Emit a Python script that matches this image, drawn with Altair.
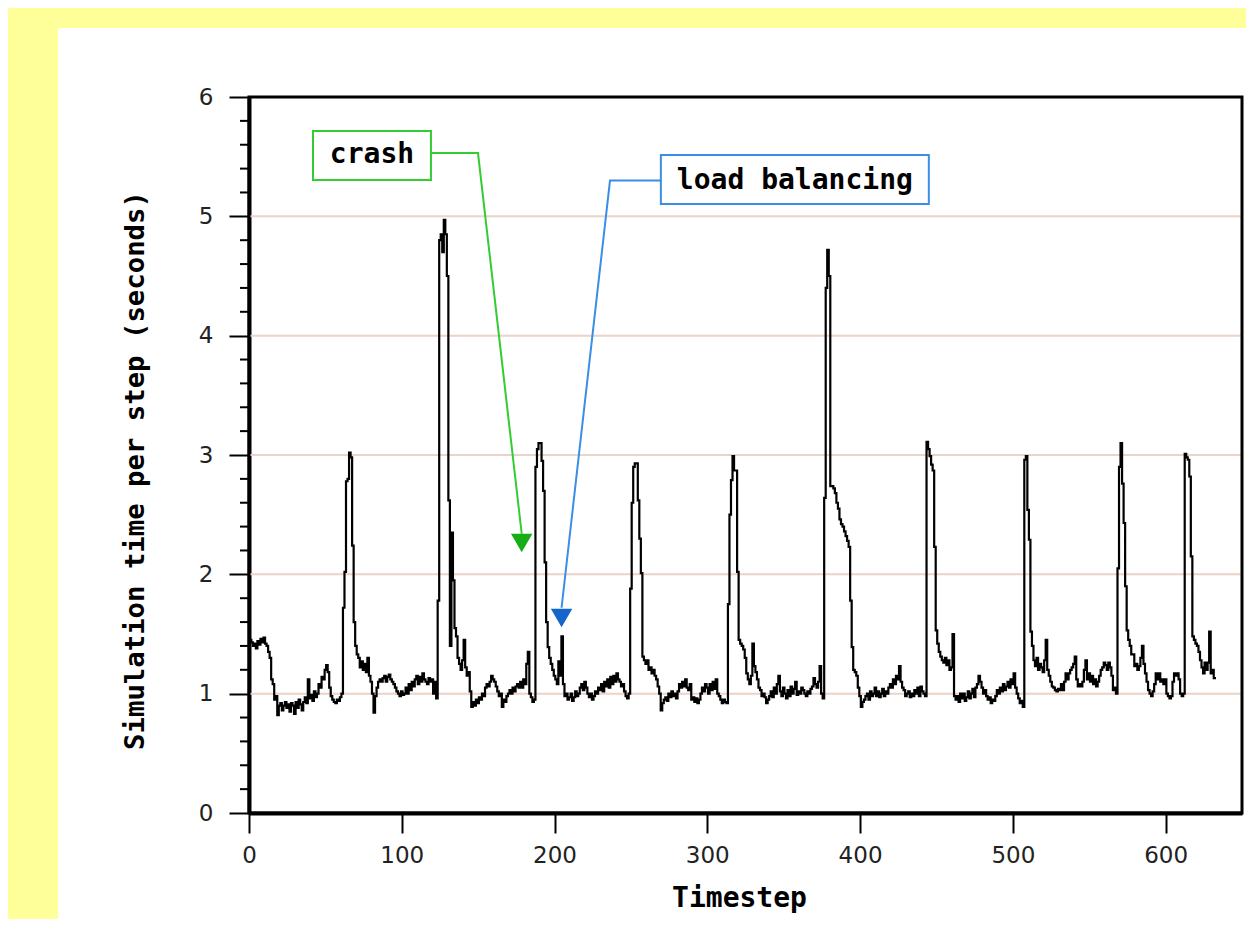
import altair as alt
import pandas as pd

# ---- data -------------------------------------------------------------
sim_time = [
    1.50, 1.45, 1.43, 1.40, 1.42, 1.38, 1.44, 1.41, 1.46, 1.43,
    1.47, 1.42, 1.40, 1.35, 1.30, 1.12, 1.08, 0.95, 0.98, 0.82,
    0.90, 0.92, 0.86, 0.90, 0.93, 0.88, 0.91, 0.85, 0.92, 0.90,
    0.83, 0.93, 0.88, 0.95, 0.91, 0.86, 0.93, 0.97, 0.92, 1.12,
    0.96, 0.99, 0.94, 1.02, 0.97, 1.00, 1.08, 1.05, 1.14, 1.12,
    1.20, 1.24, 1.18, 1.05, 0.98, 0.95, 0.93, 0.92, 0.95, 0.94,
    0.97, 1.00, 1.72, 2.02, 2.78, 2.80, 3.02, 2.98, 2.24, 1.60,
    1.40, 1.33, 1.30, 1.22, 1.27, 1.20, 1.25, 1.18, 1.30, 1.15,
    1.10, 1.00, 0.84, 0.98, 1.05, 1.10, 1.12, 1.10, 1.13, 1.15,
    1.10, 1.14, 1.16, 1.12, 1.10, 1.08, 1.05, 1.02, 1.00, 0.98,
    1.02, 0.99, 1.00, 1.05, 1.00, 1.08, 1.03, 1.10, 1.06, 1.12,
    1.15, 1.08, 1.14, 1.10, 1.17, 1.12, 1.10, 1.08, 1.13, 1.10,
    1.12, 1.00, 1.10, 0.96, 1.78, 4.80, 4.85, 4.70, 4.97, 4.85,
    4.50, 2.62, 1.40, 2.35, 1.95, 1.55, 1.48, 1.30, 1.25, 1.20,
    1.28, 1.45, 1.22, 1.15, 1.18, 1.02, 0.89, 0.93, 0.90, 0.95,
    0.92, 0.97, 0.95, 1.00, 0.98, 1.05, 1.08, 1.06, 1.10, 1.15,
    1.12, 1.10, 1.06, 1.02, 0.98, 1.00, 0.89, 0.95, 0.93, 0.98,
    1.00, 1.03, 1.00, 1.05, 1.02, 1.06, 1.08, 1.05, 1.10, 1.05,
    1.12, 1.08, 1.25, 1.35, 1.00, 0.97, 0.93, 0.95, 2.90, 3.05,
    3.10, 3.10, 2.95, 2.70, 2.10, 1.60, 1.39, 1.30, 1.25, 1.20,
    1.15, 1.12, 1.08, 1.27, 1.15, 1.48, 1.08, 0.98, 1.00, 0.95,
    0.97, 1.00, 0.94, 0.97, 1.02, 0.98, 1.00, 1.05, 1.08, 1.03,
    1.10, 1.05, 1.00, 0.97, 1.00, 0.95, 0.98, 1.02, 1.00, 1.05,
    1.03, 1.08, 1.02, 1.10, 1.06, 1.12, 1.05, 1.14, 1.08, 1.15,
    1.10, 1.17, 1.12, 1.10, 1.06, 1.08, 1.02, 0.98, 0.96, 1.00,
    1.88, 2.60, 2.90, 2.93, 2.93, 2.62, 2.30, 2.01, 1.31, 1.28,
    1.25, 1.28, 1.20, 1.22, 1.17, 1.20, 1.15, 1.12, 1.06, 1.00,
    0.86, 0.92, 0.95, 0.97, 0.94, 1.00, 0.97, 1.02, 0.98, 1.00,
    0.96, 1.02, 1.08, 1.05, 1.10, 1.06, 1.12, 1.05, 1.03, 1.08,
    0.95, 0.97, 0.93, 0.96, 0.92, 0.95, 1.00, 1.05, 1.02, 1.08,
    1.05, 1.00, 1.08, 1.03, 1.10, 1.04, 1.12, 1.00, 0.98, 0.95,
    0.92, 0.95, 0.93, 0.92, 1.75, 2.50, 2.79, 2.99, 2.87, 2.87,
    2.02, 1.45, 1.42, 1.40, 1.37, 1.30, 1.17, 1.12, 1.08, 1.15,
    1.42, 1.23, 1.18, 1.12, 1.05, 1.03, 0.98, 1.00, 0.97, 0.92,
    0.95, 0.98, 1.02, 0.97, 1.05, 1.00, 1.08, 1.15, 1.02, 0.98,
    1.05, 1.00, 0.96, 1.03, 0.98, 1.06, 1.00, 1.04, 1.10, 0.99,
    1.02, 1.00, 1.05, 1.03, 1.00, 0.98, 1.02, 1.00, 1.04, 1.06,
    1.13, 1.08, 1.05, 1.10, 1.23, 1.00, 0.96, 2.64, 4.40, 4.72,
    4.50, 2.74, 2.74, 2.72, 2.68, 2.60, 2.55, 2.46, 2.42, 2.40,
    2.36, 2.32, 2.28, 2.23, 1.78, 1.39, 1.20, 1.18, 1.15, 1.05,
    0.98, 0.89, 0.93, 0.95, 0.98, 1.00, 0.95, 1.02, 0.98, 1.00,
    1.05, 0.98, 1.02, 0.97, 1.00, 1.04, 0.98, 1.02, 1.00, 1.05,
    1.08, 1.05, 1.12, 1.08, 1.15, 1.12, 1.23, 1.10, 1.05, 1.03,
    0.98, 1.00, 1.02, 0.97, 1.00, 0.98, 1.03, 1.00, 1.05, 0.98,
    1.06, 1.02, 1.00, 0.98, 3.11, 3.05, 2.99, 2.92, 2.87, 2.23,
    1.53, 1.42, 1.35, 1.31, 1.28, 1.26, 1.30, 1.24, 1.28, 1.20,
    1.22, 1.50, 0.98, 0.95, 0.98, 0.93, 1.00, 0.96, 1.00, 0.94,
    0.97, 1.02, 0.96, 1.00, 1.04, 0.97, 1.05, 1.08, 1.15, 1.10,
    1.05, 1.00, 1.03, 0.98, 0.95, 0.97, 0.92, 0.95, 0.94, 0.98,
    1.03, 1.00, 1.05, 1.02, 1.08, 1.03, 1.06, 1.10, 1.05, 1.12,
    1.08, 1.17, 1.05, 1.00, 0.96, 0.92, 0.94, 0.89, 2.96, 2.99,
    2.54, 2.29, 1.52, 1.40, 1.28, 1.23, 1.30, 1.20, 1.25, 1.22,
    1.18, 1.28, 1.45, 1.20, 1.15, 1.10, 1.06, 1.05, 1.03, 1.02,
    1.04, 1.03, 1.08, 1.03, 1.10, 1.17, 1.12, 1.17, 1.20, 1.22,
    1.25, 1.31, 1.12, 1.06, 1.08, 1.06, 1.10, 1.20, 1.28, 1.12,
    1.17, 1.10, 1.15, 1.08, 1.12, 1.06, 1.10, 1.15, 1.20, 1.22,
    1.26, 1.24, 1.20, 1.26, 1.22, 1.15, 1.03, 1.05, 1.00, 2.05,
    2.90, 3.10, 2.76, 2.43, 1.90, 1.53, 1.45, 1.40, 1.33, 1.33,
    1.23, 1.25, 1.20, 1.23, 1.30, 1.40, 1.25, 1.17, 1.10, 1.03,
    1.00, 0.98, 1.02, 1.08, 1.17, 1.12, 1.17, 1.10, 1.12, 1.08,
    1.12, 1.00, 0.98, 0.96, 0.98, 1.10, 1.17, 1.15, 1.17, 1.12,
    1.00, 0.98, 1.00, 3.01, 2.98, 2.96, 2.82, 2.15, 1.48, 1.45,
    1.42, 1.40, 1.35, 1.28, 1.22, 1.17, 1.26, 1.20, 1.26, 1.52,
    1.17, 1.20, 1.13, 1.13,
]
timesteps = list(range(len(sim_time)))

x_ticks = [0, 100, 200, 300, 400, 500, 600]
y_ticks = [0, 1, 2, 3, 4, 5, 6]
y_minor = [0.2, 0.4, 0.6, 0.8, 1.2, 1.4, 1.6, 1.8, 2.2, 2.4, 2.6, 2.8,
           3.2, 3.4, 3.6, 3.8, 4.2, 4.4, 4.6, 4.8, 5.2, 5.4, 5.6, 5.8]
grid_values = [1, 2, 3, 4, 5, 6]

ann_labels = ["crash", "load balancing"]
ann_box_x1 = [41.9, 269.6]
ann_box_x2 = [119.1, 445.0]
ann_box_y1 = [5.715, 5.514]
ann_box_y2 = [5.305, 5.103]
ann_text_x = [80.5, 357.3]
ann_text_y = [5.51, 5.30]
ann_line_colors = ["#33CC33", "#3A8EE6"]
ann_arrow_colors = ["#17AD17", "#1465CC"]
crash_path_x = [119.1, 149.9, 178.5]
crash_path_y = [5.53, 5.53, 2.34]
lb_path_x = [269.6, 236.3, 204.6]
lb_path_y = [5.30, 5.30, 1.72]
arrow_x = [178.5, 204.6]
arrow_y = [2.263, 1.634]

# ---- layout -----------------------------------------------------------
W, H = 993, 716
xs = alt.Scale(domain=[0, 650], nice=False, zero=False)
ys = alt.Scale(domain=[0, 6], nice=False, zero=False)

series = pd.DataFrame({"t": timesteps, "v": sim_time})
one = pd.DataFrame({"a": [0]})
grid_df = pd.DataFrame({"v": grid_values})
minor_df = pd.DataFrame({"v": y_minor})
box_df = pd.DataFrame({"label": ann_labels, "x1": ann_box_x1, "x2": ann_box_x2,
                       "y1": ann_box_y1, "y2": ann_box_y2,
                       "tx": ann_text_x, "ty": ann_text_y,
                       "lc": ann_line_colors, "ac": ann_arrow_colors,
                       "ax": arrow_x, "ay": arrow_y})
crash_df = pd.DataFrame({"t": crash_path_x, "v": crash_path_y, "o": [0, 1, 2]})
lb_df = pd.DataFrame({"t": lb_path_x, "v": lb_path_y, "o": [0, 1, 2]})

label_font = "DejaVu Sans"
bold_font = "DejaVu Sans Mono"
YELLOW = "#FFFF99"

x_axis = alt.Axis(
    values=x_ticks, format="d", grid=False, tickSize=20, tickWidth=2, tickColor="black",
    domainColor="black", domainWidth=4, labelFont=label_font, labelFontSize=23,
    labelColor="#222222", labelPadding=11, labelFlush=False,
    title="Timestep", titleFont=bold_font, titleFontSize=28, titleFontWeight="bold",
    titleColor="black", titleX=490, titleY=93, titleBaseline="alphabetic")
y_axis = alt.Axis(
    values=y_ticks, format="d", grid=False, tickSize=20, tickWidth=2, tickColor="black",
    domainColor="black", domainWidth=4, labelFont=label_font, labelFontSize=23,
    labelColor="#222222", labelPadding=16, labelFlush=False,
    title="Simulation time per step (seconds)", titleFont=bold_font, titleFontSize=27.3,
    titleFontWeight="bold", titleColor="black", titleAngle=270, titleX=-106, titleY=373,
    titleBaseline="alphabetic", titleAlign="center")

X = alt.X("t:Q", scale=xs, axis=x_axis)
Y = alt.Y("v:Q", scale=ys, axis=y_axis)

strip_left = alt.Chart(one).mark_rect(color=YELLOW).encode(
    x=alt.value(-245), x2=alt.value(-191), y=alt.value(-95), y2=alt.value(H + 200)
)
strip_top = alt.Chart(one).mark_rect(color=YELLOW).encode(
    x=alt.value(-245), x2=alt.value(W + 40), y=alt.value(-95), y2=alt.value(-69)
)

grid = alt.Chart(grid_df).mark_rule(color="#EBD3C8", strokeWidth=2).encode(
    y=Y, x=alt.value(0), x2=alt.value(W)
)

line = alt.Chart(series).mark_line(color="black", strokeWidth=2.2, interpolate="step").encode(
    x=X, y=Y
)

frame = alt.Chart(one).mark_rect(fillOpacity=0, stroke="black", strokeWidth=3).encode(
    x=alt.value(0), x2=alt.value(W), y=alt.value(0), y2=alt.value(H)
)

minor = alt.Chart(minor_df).mark_rule(color="black", strokeWidth=2).encode(
    y=Y, x=alt.value(-9), x2=alt.value(0)
)

crash_line = alt.Chart(crash_df).mark_line(color=ann_line_colors[0], strokeWidth=2).encode(
    x=X, y=Y, order="o:Q"
)
lb_line = alt.Chart(lb_df).mark_line(color=ann_line_colors[1], strokeWidth=2).encode(
    x=X, y=Y, order="o:Q"
)

arrows = alt.Chart(box_df).mark_point(shape="triangle-down", filled=True, size=460, opacity=1).encode(
    x=alt.X("ax:Q", scale=xs, axis=x_axis), y=alt.Y("ay:Q", scale=ys, axis=y_axis),
    color=alt.Color("ac:N", scale=None)
)

boxes = alt.Chart(box_df).mark_rect(fill="white", strokeWidth=2).encode(
    x=alt.X("x1:Q", scale=xs, axis=x_axis), x2="x2:Q",
    y=alt.Y("y1:Q", scale=ys, axis=y_axis), y2="y2:Q",
    stroke=alt.Stroke("lc:N", scale=None)
)

texts = alt.Chart(box_df).mark_text(font=bold_font, fontWeight="bold", fontSize=28,
                                    color="black", baseline="middle", align="center").encode(
    x=alt.X("tx:Q", scale=xs, axis=x_axis), y=alt.Y("ty:Q", scale=ys, axis=y_axis),
    text="label:N"
)

chart = alt.layer(strip_left, strip_top, grid, line, frame, minor, crash_line, lb_line,
                  arrows, boxes, texts).properties(
    width=W, height=H,
    autosize=alt.AutoSizeParams(type="none"),
    padding={"left": 241, "top": 89, "right": 4, "bottom": 106},
    background="white",
).configure_view(stroke=None)

chart.save("out.html", embed_options={"renderer": "svg", "actions": False})
